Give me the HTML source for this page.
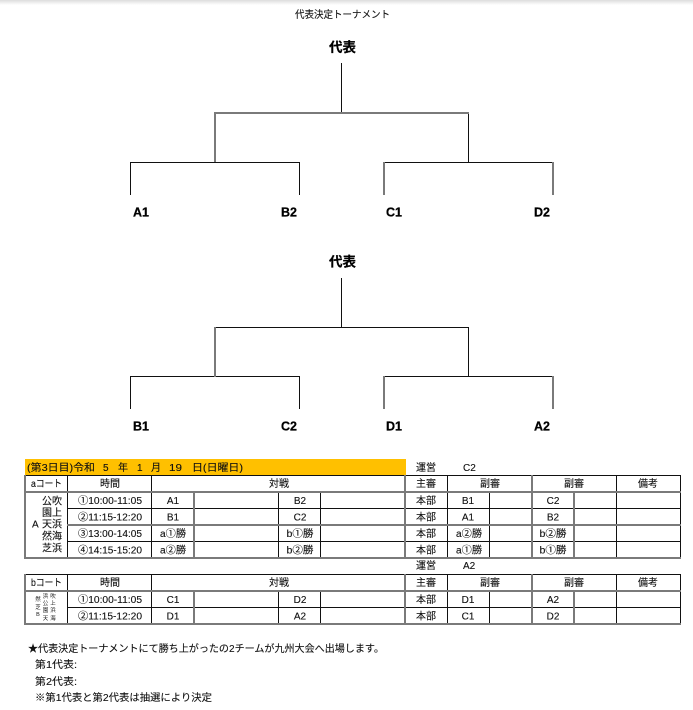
<!DOCTYPE html>
<html lang="ja">
<head>
<meta charset="utf-8">
<title>代表決定トーナメント</title>
<style>
html,body{margin:0;padding:0;background:#fff;width:693px;height:710px;overflow:hidden}
svg{display:block}
text{font-family:"Liberation Sans","Noto Sans CJK JP",sans-serif;font-size:10px;fill:#111;stroke:#111;stroke-width:.12px}
.m{text-anchor:middle}
.b{font-weight:bold;font-size:12.500px;fill:#000;stroke:#000;stroke-width:.25px}
.k{font-size:13.500px;font-weight:bold;fill:#000;stroke:#000;stroke-width:.25px;text-anchor:middle}
.s{font-size:5.500px;text-anchor:middle;stroke-width:0}
.n{font-size:10.300px}
line{shape-rendering:crispEdges}
.d line{stroke:#111;stroke-width:1}
.g line{stroke:#7a7a7a;stroke-width:2}
</style>
</head>
<body>
<svg xmlns="http://www.w3.org/2000/svg" width="693" height="710" viewBox="0 0 693 710">
<defs><linearGradient id="sh" x1="0" y1="0" x2="0" y2="1"><stop offset="0" stop-color="#ddd"/><stop offset="1" stop-color="#fff"/></linearGradient></defs>
<rect width="693" height="5" fill="url(#sh)"/>
<rect x="25" y="459" width="381" height="16.500" fill="#ffc000"/>

<!-- trees -->
<g class="d">
<line x1="341.500" y1="63" x2="341.500" y2="113"/>
<line x1="468.500" y1="113" x2="468.500" y2="162"/>
<line x1="130.500" y1="162.500" x2="300" y2="162.500"/>
<line x1="384" y1="162.500" x2="553" y2="162.500"/>
<line x1="130.500" y1="162" x2="130.500" y2="195"/>
<line x1="299.500" y1="162" x2="299.500" y2="195"/>

<line x1="341.500" y1="278" x2="341.500" y2="327"/>
<line x1="215" y1="327.500" x2="469" y2="327.500"/>
<line x1="468.500" y1="327" x2="468.500" y2="377"/>
<line x1="130.500" y1="376.500" x2="300" y2="376.500"/>
<line x1="384" y1="376.500" x2="553" y2="376.500"/>
<line x1="130.500" y1="376" x2="130.500" y2="409"/>
<line x1="299.500" y1="376" x2="299.500" y2="409"/>
</g>
<g class="g">
<line x1="215" y1="113" x2="469" y2="113"/>
<line x1="215" y1="112" x2="215" y2="162"/>
<line x1="384" y1="162" x2="384" y2="195"/>
<line x1="553" y1="162" x2="553" y2="195"/>

<line x1="215" y1="327" x2="215" y2="377"/>
<line x1="384" y1="376" x2="384" y2="409"/>
<line x1="553" y1="376" x2="553" y2="409"/>
</g>

<text x="342.500" y="18" class="m" textLength="95" lengthAdjust="spacingAndGlyphs">代表決定トーナメント</text>
<text x="342.500" y="52" class="k">代表</text>
<text x="133" y="216.500" class="b">A1</text>
<text x="281" y="216.500" class="b">B2</text>
<text x="386" y="216.500" class="b">C1</text>
<text x="534" y="216.500" class="b">D2</text>
<text x="342.500" y="266.500" class="k">代表</text>
<text x="133" y="430.500" class="b">B1</text>
<text x="281" y="430.500" class="b">C2</text>
<text x="386" y="430.500" class="b">D1</text>
<text x="534" y="430.500" class="b">A2</text>

<!-- table a lines -->
<g class="d">
<line x1="25" y1="475.500" x2="680" y2="475.500"/>
<line x1="67" y1="508.500" x2="680" y2="508.500"/>
<line x1="67" y1="541.500" x2="680" y2="541.500"/>
<line x1="67.500" y1="475" x2="67.500" y2="558"/>
<line x1="151.500" y1="475" x2="151.500" y2="558"/>
<line x1="278.500" y1="492" x2="278.500" y2="558"/>
<line x1="320.500" y1="492" x2="320.500" y2="558"/>
<line x1="447.500" y1="475" x2="447.500" y2="558"/>
<line x1="489.500" y1="492" x2="489.500" y2="558"/>
<line x1="616.500" y1="475" x2="616.500" y2="558"/>
<line x1="680.500" y1="475" x2="680.500" y2="558"/>
<!-- table b lines -->
<line x1="25" y1="574.500" x2="680" y2="574.500"/>
<line x1="67" y1="607.500" x2="680" y2="607.500"/>
<line x1="67.500" y1="574" x2="67.500" y2="624"/>
<line x1="151.500" y1="574" x2="151.500" y2="624"/>
<line x1="278.500" y1="591" x2="278.500" y2="624"/>
<line x1="320.500" y1="591" x2="320.500" y2="624"/>
<line x1="447.500" y1="574" x2="447.500" y2="624"/>
<line x1="489.500" y1="591" x2="489.500" y2="624"/>
<line x1="616.500" y1="574" x2="616.500" y2="624"/>
<line x1="680.500" y1="574" x2="680.500" y2="624"/>
</g>
<g class="g">
<line x1="25" y1="492" x2="681" y2="492"/>
<line x1="67" y1="525" x2="681" y2="525"/>
<line x1="25" y1="558" x2="681" y2="558"/>
<line x1="25" y1="475" x2="25" y2="559"/>
<line x1="194" y1="492" x2="194" y2="558"/>
<line x1="405" y1="475" x2="405" y2="559"/>
<line x1="532" y1="475" x2="532" y2="559"/>
<line x1="574" y1="492" x2="574" y2="558"/>

<line x1="25" y1="591" x2="681" y2="591"/>
<line x1="25" y1="624" x2="681" y2="624"/>
<line x1="25" y1="574" x2="25" y2="625"/>
<line x1="194" y1="591" x2="194" y2="624"/>
<line x1="405" y1="574" x2="405" y2="625"/>
<line x1="532" y1="574" x2="532" y2="625"/>
<line x1="574" y1="591" x2="574" y2="624"/>
</g>

<!-- table a text -->
<text x="27" y="471" textLength="68" lengthAdjust="spacingAndGlyphs">(第3日目)令和</text>
<text x="103" y="471">5</text>
<text x="118" y="471">年</text>
<text x="137" y="471">1</text>
<text x="151" y="471">月</text>
<text x="169" y="471" textLength="13" lengthAdjust="spacingAndGlyphs">19</text>
<text x="192" y="471" textLength="51" lengthAdjust="spacingAndGlyphs">日(日曜日)</text>
<text x="416" y="471">運営</text>
<text x="463" y="471">C2</text>

<text x="46.500" y="487" class="m" textLength="31" lengthAdjust="spacingAndGlyphs">aコート</text>
<text x="110" y="487" class="m">時間</text>
<text x="279" y="487" class="m">対戦</text>
<text x="426" y="487" class="m">主審</text>
<text x="490" y="487" class="m">副審</text>
<text x="574" y="487" class="m">副審</text>
<text x="648" y="487" class="m">備考</text>

<text x="52" y="504.500" class="m">公吹</text>
<text x="52" y="516" class="m">園上</text>
<text x="32" y="527.500">A</text>
<text x="52" y="527.500" class="m">天浜</text>
<text x="52" y="539.500" class="m">然海</text>
<text x="52" y="551.500" class="m">芝浜</text>

<text x="110" y="504" class="m" textLength="64" lengthAdjust="spacingAndGlyphs">①10:00-11:05</text>
<text x="110" y="520.500" class="m" textLength="64" lengthAdjust="spacingAndGlyphs">②11:15-12:20</text>
<text x="110" y="537" class="m" textLength="64" lengthAdjust="spacingAndGlyphs">③13:00-14:05</text>
<text x="110" y="553.500" class="m" textLength="64" lengthAdjust="spacingAndGlyphs">④14:15-15:20</text>

<text x="173" y="504" class="m">A1</text>
<text x="173" y="520.500" class="m">B1</text>
<text x="173" y="537" class="m" textLength="26" lengthAdjust="spacingAndGlyphs">a①勝</text>
<text x="173" y="553.500" class="m" textLength="26" lengthAdjust="spacingAndGlyphs">a②勝</text>
<text x="300" y="504" class="m">B2</text>
<text x="300" y="520.500" class="m">C2</text>
<text x="300" y="537" class="m" textLength="27" lengthAdjust="spacingAndGlyphs">b①勝</text>
<text x="300" y="553.500" class="m" textLength="27" lengthAdjust="spacingAndGlyphs">b②勝</text>

<text x="426" y="504" class="m">本部</text>
<text x="426" y="520.500" class="m">本部</text>
<text x="426" y="537" class="m">本部</text>
<text x="426" y="553.500" class="m">本部</text>

<text x="468" y="504" class="m">B1</text>
<text x="468" y="520.500" class="m">A1</text>
<text x="469" y="537" class="m" textLength="26" lengthAdjust="spacingAndGlyphs">a②勝</text>
<text x="469" y="553.500" class="m" textLength="26" lengthAdjust="spacingAndGlyphs">a①勝</text>
<text x="553" y="504" class="m">C2</text>
<text x="553" y="520.500" class="m">B2</text>
<text x="553" y="537" class="m" textLength="27" lengthAdjust="spacingAndGlyphs">b②勝</text>
<text x="553" y="553.500" class="m" textLength="27" lengthAdjust="spacingAndGlyphs">b①勝</text>

<!-- table b text -->
<text x="416" y="569">運営</text>
<text x="463" y="569">A2</text>
<text x="46.500" y="586" class="m" textLength="31" lengthAdjust="spacingAndGlyphs">bコート</text>
<text x="110" y="586" class="m">時間</text>
<text x="279" y="586" class="m">対戦</text>
<text x="426" y="586" class="m">主審</text>
<text x="490" y="586" class="m">副審</text>
<text x="574" y="586" class="m">副審</text>
<text x="648" y="586" class="m">備考</text>

<text x="38" y="601" class="s">然</text>
<text x="38" y="609" class="s">芝</text>
<text x="38" y="616" class="s">B</text>
<text x="45.500" y="598" class="s">浜</text><text x="53" y="598" class="s">吹</text>
<text x="45.500" y="605" class="s">公</text><text x="53" y="605" class="s">上</text>
<text x="45.500" y="612" class="s">園</text><text x="53" y="612" class="s">浜</text>
<text x="45.500" y="620" class="s">天</text><text x="53" y="620" class="s">海</text>

<text x="110" y="603" class="m" textLength="64" lengthAdjust="spacingAndGlyphs">①10:00-11:05</text>
<text x="110" y="619.500" class="m" textLength="64" lengthAdjust="spacingAndGlyphs">②11:15-12:20</text>
<text x="173" y="603" class="m">C1</text>
<text x="173" y="619.500" class="m">D1</text>
<text x="300" y="603" class="m">D2</text>
<text x="300" y="619.500" class="m">A2</text>
<text x="426" y="603" class="m">本部</text>
<text x="426" y="619.500" class="m">本部</text>
<text x="468" y="603" class="m">D1</text>
<text x="468" y="619.500" class="m">C1</text>
<text x="553" y="603" class="m">A2</text>
<text x="553" y="619.500" class="m">D2</text>

<!-- notes -->
<text x="28" y="652" class="n" textLength="356" lengthAdjust="spacingAndGlyphs">★代表決定トーナメントにて勝ち上がったの2チームが九州大会へ出場します。</text>
<text x="35" y="668" class="n" textLength="42" lengthAdjust="spacingAndGlyphs">第1代表:</text>
<text x="35" y="685" class="n" textLength="42" lengthAdjust="spacingAndGlyphs">第2代表:</text>
<text x="35" y="701" class="n" textLength="177" lengthAdjust="spacingAndGlyphs">※第1代表と第2代表は抽選により決定</text>
</svg>
</body>
</html>
